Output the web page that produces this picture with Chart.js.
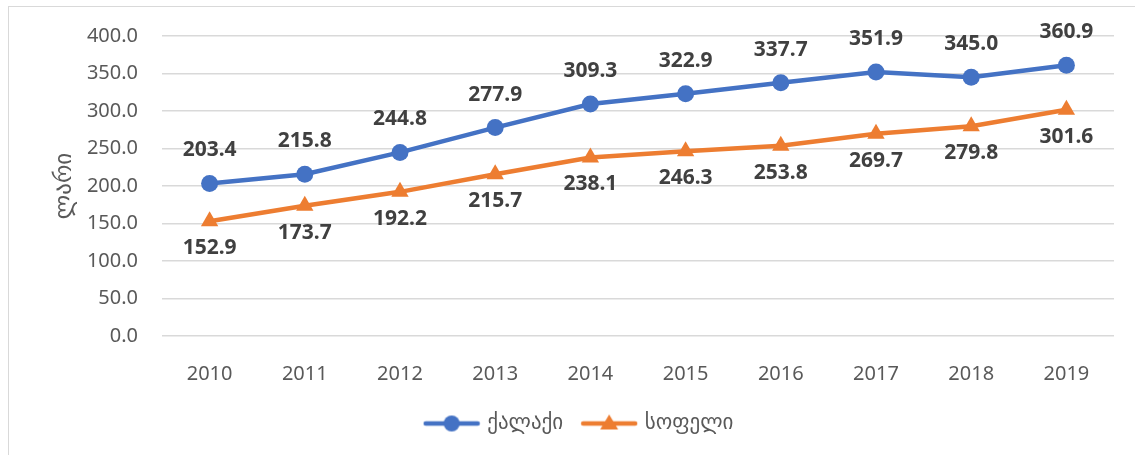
<!DOCTYPE html>
<html>
<head>
<meta charset="utf-8">
<script src="https://cdn.jsdelivr.net/npm/chart.js@4"></script>
<style>
  html, body { margin: 0; padding: 0; background: #fff; overflow: hidden; }
  #wrap { position: relative; width: 1135px; height: 455px; }
  #frame { position: absolute; left: 8px; top: 6px; width: 1140px; height: 460px; border: 1px solid #d9d9d9; box-sizing: border-box; }
  canvas { position: absolute; left: 0; top: 0; }
</style>
</head>
<body>
<div id="wrap">
  <div id="frame"></div>
  <canvas id="chart" width="1135" height="455"></canvas>
</div>
<script>
// データ
const years = ['2010', '2011', '2012', '2013', '2014', '2015', '2016', '2017', '2018', '2019'];
const cityValues = [203.4, 215.8, 244.8, 277.9, 309.3, 322.9, 337.7, 351.9, 345.0, 360.9];
const villageValues = [152.9, 173.7, 192.2, 215.7, 238.1, 246.3, 253.8, 269.7, 279.8, 301.6];
const seriesNames = ['ქალაქი', 'სოფელი'];
const axisTitle = 'ლარი';

const FONT = '"Noto Sans", "DejaVu Sans", sans-serif';
const BLUE = '#4472C4';
const ORANGE = '#ED7D31';

// 凡例用のアイコン（線＋マーカー）
function legendIcon(color, shape) {
  let c = document.createElement('canvas');
  c.width = 58;
  c.height = 20;
  let ctx = c.getContext('2d');
  ctx.strokeStyle = color;
  ctx.fillStyle = color;
  ctx.lineWidth = 4.5;
  ctx.lineCap = 'round';
  ctx.beginPath();
  ctx.moveTo(3, 10);
  ctx.lineTo(55, 10);
  ctx.stroke();
  ctx.beginPath();
  if (shape === 'circle') {
    ctx.arc(29, 10, 8, 0, Math.PI * 2);
  } else {
    ctx.moveTo(29, 1);
    ctx.lineTo(38, 16);
    ctx.lineTo(20, 16);
    ctx.closePath();
  }
  ctx.fill();
  return c;
}

// データラベル描画プラグイン
const valueLabels = {
  id: 'valueLabels',
  afterDatasetsDraw(chart) {
    let ctx = chart.ctx;
    ctx.save();
    ctx.font = 'bold 21px ' + FONT;
    ctx.fillStyle = '#404040';
    ctx.textAlign = 'center';
    ctx.textBaseline = 'middle';
    chart.data.datasets.forEach((ds, i) => {
      let meta = chart.getDatasetMeta(i);
      meta.data.forEach((pt, j) => {
        let dy = i === 0 ? -33 : 27;
        ctx.fillText(ds.data[j].toFixed(1), pt.x, pt.y + dy);
      });
    });
    ctx.restore();
  }
};

const icons = [legendIcon(BLUE, 'circle'), legendIcon(ORANGE, 'triangle')];

new Chart(document.getElementById('chart'), {
  type: 'line',
  data: {
    labels: years,
    datasets: [{
      label: seriesNames[0],
      data: cityValues,
      borderColor: BLUE,
      backgroundColor: BLUE,
      borderWidth: 4.5,
      pointStyle: 'circle',
      pointRadius: 8.5,
      pointBorderWidth: 0
    }, {
      label: seriesNames[1],
      data: villageValues,
      borderColor: ORANGE,
      backgroundColor: ORANGE,
      borderWidth: 4.5,
      pointStyle: 'triangle',
      pointRadius: 10,
      pointBorderWidth: 0
    }]
  },
  options: {
    responsive: false,
    animation: false,
    layout: {
      padding: { top: 36, right: 21, bottom: 11, left: 46 }
    },
    plugins: {
      tooltip: { enabled: false },
      legend: {
        position: 'bottom',
        labels: {
          usePointStyle: true,
          pointStyleWidth: 50,
          padding: 10,
          color: '#595959',
          font: { family: FONT, size: 21 },
          generateLabels(chart) {
            return chart.data.datasets.map((ds, i) => ({
              text: i === 0 ? ds.label + '  ' : ds.label,
              pointStyle: icons[i],
              fontColor: '#595959',
              lineWidth: 0,
              datasetIndex: i
            }));
          }
        }
      }
    },
    scales: {
      x: {
        offset: true,
        grid: { display: false },
        border: { display: false },
        ticks: {
          color: '#595959',
          padding: 18,
          font: { family: FONT, size: 20 }
        },
        afterFit(s) { s.height = 67; }
      },
      y: {
        min: 0,
        max: 400,
        grid: { color: '#d9d9d9', lineWidth: 1.5, drawTicks: false },
        border: { display: false },
        ticks: {
          stepSize: 50,
          padding: 24,
          color: '#595959',
          font: { family: FONT, size: 20 },
          callback: (v) => Number(v).toFixed(1)
        },
        title: {
          display: true,
          text: axisTitle,
          color: '#595959',
          font: { family: FONT, size: 23 },
          padding: { top: 5, bottom: 0 }
        },
        afterFit(s) { s.width = 116; }
      }
    }
  },
  plugins: [valueLabels]
});
</script>
</body>
</html>
